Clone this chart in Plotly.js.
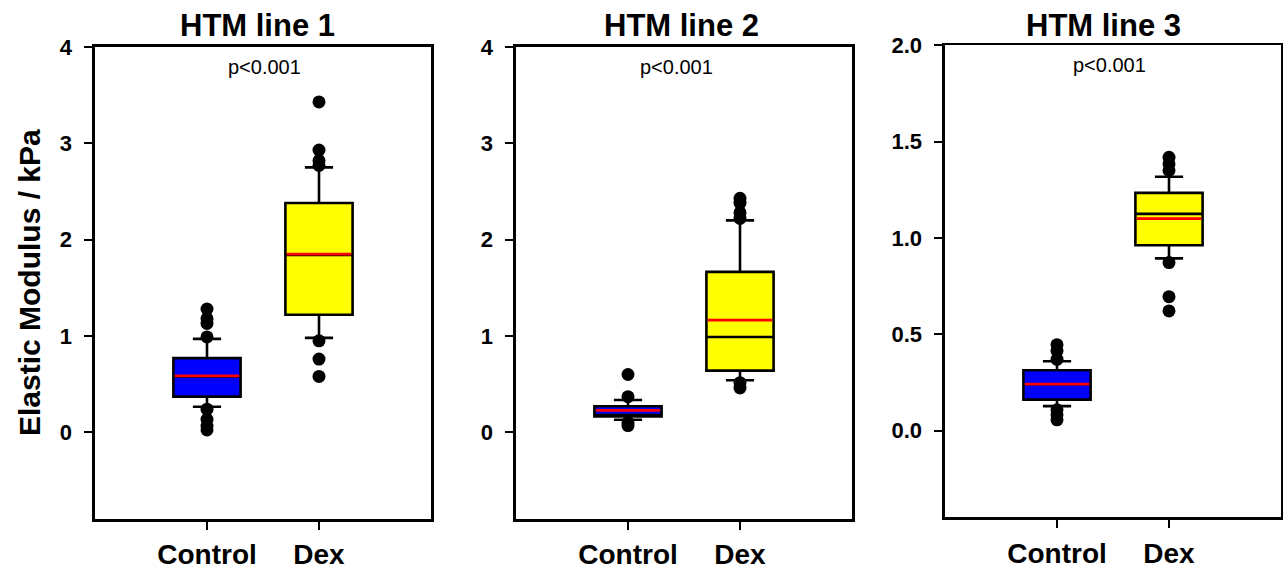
<!DOCTYPE html>
<html>
<head>
<meta charset="utf-8">
<script src="https://cdn.plot.ly/plotly-3.0.1.min.js"></script>
<style>html,body{margin:0;padding:0;background:#fff;}#chart{width:1283px;height:572px;}</style>
</head>
<body>
<div id="chart"></div>
<script>
// ---- data ----
const groups = ['Control', 'Dex'];
const panelTitles = ['HTM line 1', 'HTM line 2', 'HTM line 3'];
const pLabels = ['p<0.001', 'p<0.001', 'p<0.001'];
const yTitle = 'Elastic Modulus / kPa';

// HTM line 1
const h1Q1 = [0.37, 1.22];
const h1Median = [0.58, 1.84];
const h1Q3 = [0.77, 2.38];
const h1Lower = [0.265, 0.98];
const h1Upper = [0.97, 2.75];
const h1Mean = [0.585, 1.85];
const h1CtrlOut = [1.28, 1.18, 1.13, 0.99, 0.24, 0.135, 0.065, 0.025];
const h1DexOut = [3.43, 2.93, 2.82, 2.77, 0.95, 0.76, 0.58];

// HTM line 2
const h2Q1 = [0.165, 0.64];
const h2Median = [0.18, 0.99];
const h2Q3 = [0.27, 1.665];
const h2Lower = [0.13, 0.54];
const h2Upper = [0.335, 2.2];
const h2Mean = [0.228, 1.165];
const h2CtrlOut = [0.60, 0.37, 0.10, 0.07];
const h2DexOut = [2.43, 2.38, 2.28, 2.22, 0.515, 0.46];

// HTM line 3
const h3Q1 = [0.161, 0.962];
const h3Median = [0.241, 1.125];
const h3Q3 = [0.313, 1.234];
const h3Lower = [0.127, 0.894];
const h3Upper = [0.36, 1.318];
const h3Mean = [0.241, 1.10];
const h3CtrlOut = [0.446, 0.413, 0.37, 0.108, 0.082, 0.056];
const h3DexOut = [1.419, 1.384, 1.35, 0.872, 0.695, 0.621];

const yRanges = [[-0.9, 4], [-0.9, 4], [-0.45, 2.0]];
const yDticks = [1, 1, 0.5];
const yFormats = ['d', 'd', '.1f'];

// ---- styling ----
const FONT = 'Liberation Sans, Arial, Helvetica, sans-serif';
const fillColors = ['#0000FF', '#FFFF00'];
const W = 1283, H = 572;
const xDomPx = [[95, 431], [516, 852], [945, 1281]];
const yDomPx = [[47, 519], [47, 519], [45.3, 517.3]];
const titleXpx = [257, 681, 1103];
const pXpx = [264, 676, 1109];
const pYpx = [67, 67, 65];

const panels = [
  {q1: h1Q1, med: h1Median, q3: h1Q3, lo: h1Lower, hi: h1Upper, mean: h1Mean, out: [h1CtrlOut, h1DexOut]},
  {q1: h2Q1, med: h2Median, q3: h2Q3, lo: h2Lower, hi: h2Upper, mean: h2Mean, out: [h2CtrlOut, h2DexOut]},
  {q1: h3Q1, med: h3Median, q3: h3Q3, lo: h3Lower, hi: h3Upper, mean: h3Mean, out: [h3CtrlOut, h3DexOut]}
];

const boxTraces = [], meanTraces = [], outTraces = [];
panels.forEach((p, i) => {
  const xa = 'x' + (i + 1), ya = 'y' + (i + 1);
  groups.forEach((g, j) => {
    boxTraces.push({
      type: 'box', xaxis: xa, yaxis: ya,
      x: [g], q1: [p.q1[j]], median: [p.med[j]], q3: [p.q3[j]],
      lowerfence: [p.lo[j]], upperfence: [p.hi[j]],
      boxpoints: false, width: 0.6, whiskerwidth: 0.42,
      fillcolor: fillColors[j], line: {color: '#000', width: 2.6},
      hoverinfo: 'skip', showlegend: false
    });
    outTraces.push({
      type: 'scatter', mode: 'markers', xaxis: xa, yaxis: ya,
      x: p.out[j].map(() => g), y: p.out[j],
      marker: {color: '#000', size: 13, line: {width: 0}},
      hoverinfo: 'skip', showlegend: false
    });
  });
  meanTraces.push({
    type: 'scatter', mode: 'markers', xaxis: xa, yaxis: ya,
    x: groups, y: p.mean,
    marker: {symbol: 'line-ew', size: 46, color: '#FF0000', line: {color: '#FF0000', width: 2.8}},
    hoverinfo: 'skip', showlegend: false
  });
});

const layout = {
  width: W, height: H,
  margin: {l: 0, r: 0, t: 0, b: 0},
  paper_bgcolor: '#fff', plot_bgcolor: '#fff',
  boxmode: 'overlay',
  showlegend: false,
  font: {family: FONT, color: '#000'},
  annotations: []
};

for (let i = 0; i < 3; i++) {
  const n = i + 1;
  layout['xaxis' + n] = {
    domain: [xDomPx[i][0] / W, xDomPx[i][1] / W],
    anchor: 'y' + n,
    type: 'category', range: [-1, 2],
    showline: true, linecolor: '#000', linewidth: 2.6, mirror: true,
    ticks: 'outside', ticklen: 8, tickwidth: 2.2, tickcolor: '#000',
    tickfont: {family: FONT, size: 28, weight: 'bold', color: '#000'},
    ticklabelstandoff: 1,
    showgrid: false, zeroline: false, fixedrange: true
  };
  layout['yaxis' + n] = {
    domain: [1 - yDomPx[i][1] / H, 1 - yDomPx[i][0] / H],
    anchor: 'x' + n,
    range: yRanges[i], tick0: 0, dtick: yDticks[i], tickformat: yFormats[i],
    showline: true, linecolor: '#000', linewidth: 2.6, mirror: true,
    ticks: 'outside', ticklen: 8, tickwidth: 2.2, tickcolor: '#000',
    tickfont: {family: FONT, size: 22, weight: 'bold', color: '#000'},
    ticklabelstandoff: 8,
    showgrid: false, zeroline: false, fixedrange: true
  };
  layout.annotations.push({
    text: panelTitles[i], xref: 'paper', yref: 'paper',
    x: titleXpx[i] / W, y: 1 - 26 / H, xanchor: 'center', yanchor: 'middle',
    showarrow: false, font: {family: FONT, size: 31, weight: 'bold', color: '#000'}
  });
  layout.annotations.push({
    text: pLabels[i], xref: 'paper', yref: 'paper',
    x: pXpx[i] / W, y: 1 - pYpx[i] / H, xanchor: 'center', yanchor: 'middle',
    showarrow: false, font: {family: FONT, size: 20, color: '#000'}
  });
}
layout.annotations.push({
  text: yTitle, xref: 'paper', yref: 'paper',
  x: 29 / W, y: 1 - 283 / H, xanchor: 'center', yanchor: 'middle',
  textangle: -90, showarrow: false,
  font: {family: FONT, size: 30, weight: 'bold', color: '#000'}
});

Plotly.newPlot('chart', boxTraces.concat(meanTraces, outTraces), layout, {staticPlot: true, displayModeBar: false});
</script>
</body>
</html>
